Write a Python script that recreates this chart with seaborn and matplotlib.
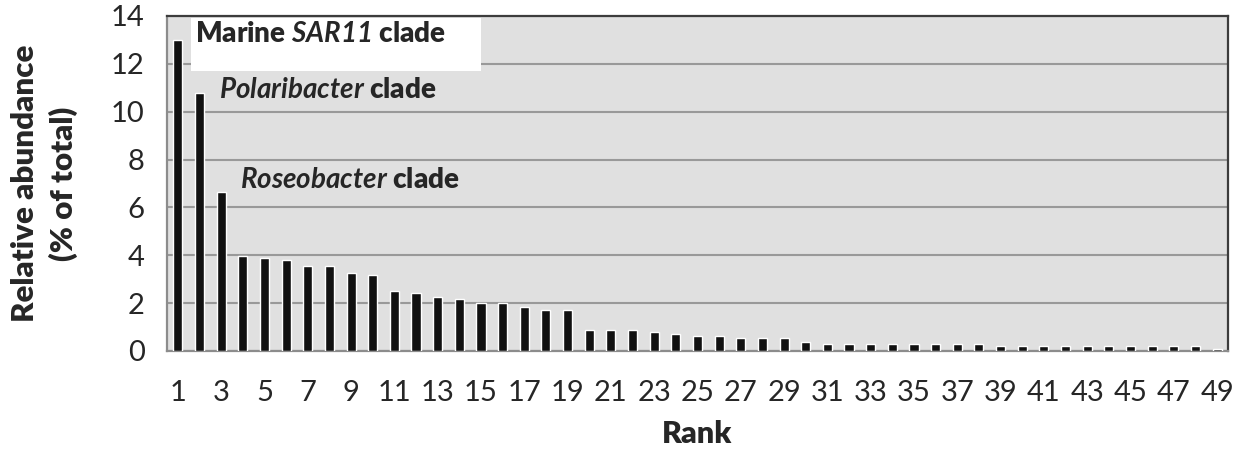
import pandas as pd
import matplotlib.pyplot as plt
import seaborn as sns
from matplotlib.patches import Rectangle

# Data (rank-abundance of clades)
ranks = list(range(1, 50))
abundance = [
    13.0, 10.8, 6.65, 3.95, 3.88, 3.79, 3.54, 3.54, 3.27, 3.18,
    2.49, 2.41, 2.26, 2.18, 2.0, 2.0, 1.82, 1.73, 1.73, 0.87,
    0.87, 0.87, 0.79, 0.71, 0.63, 0.63, 0.54, 0.54, 0.54, 0.37,
    0.28, 0.28, 0.28, 0.28, 0.28, 0.28, 0.28, 0.28, 0.2, 0.2,
    0.2, 0.2, 0.2, 0.2, 0.2, 0.2, 0.2, 0.2, 0.1,
]
labels = [r"Marine $\mathbfit{SAR11}$ clade",
          r"$\mathbfit{Polaribacter}$ clade",
          r"$\mathbfit{Roseobacter}$ clade"]
label_ranks = [1, 2, 3]
y_ticks = [0, 2, 4, 6, 8, 10, 12, 14]

df = pd.DataFrame({"rank": [str(r) for r in ranks], "abundance": abundance})

sns.set_style("white")
plt.rcParams["font.family"] = ["Lato", "DejaVu Sans"]
plt.rcParams["mathtext.fontset"] = "custom"
plt.rcParams["mathtext.bfit"] = "Lato:italic:bold"
plt.rcParams["mathtext.bf"] = "Lato:bold"
plt.rcParams["mathtext.it"] = "Lato:italic"
plt.rcParams["mathtext.rm"] = "Lato"

fig = plt.figure(figsize=(12.53, 4.53), dpi=100)
ax = fig.add_axes([0.1333, 0.2252, 0.8467, 0.7395])
ax.set_facecolor("#e0e0e0")

sns.barplot(data=df, x="rank", y="abundance", color="#111111",
            width=0.42, saturation=1, ax=ax, zorder=3)

ax.set_ylim(0, 14)
ax.set_xlim(-0.5, len(ranks) - 0.5)
ax.set_yticks(y_ticks)
ax.yaxis.grid(True, color="#999999", linewidth=1.5, zorder=1)
ax.set_axisbelow(True)

# x labels every second rank, tick marks between categories
ax.set_xticks(range(0, len(ranks), 2))
ax.set_xticklabels([str(r) for r in ranks[::2]])
ax.set_xticks([i - 0.5 for i in range(0, len(ranks) + 1, 2)], minor=True)
ax.tick_params(axis="x", which="major", length=0, pad=21, labelsize=21)
ax.tick_params(axis="x", which="minor", length=6, width=1.5,
               color="#8c8c8c", direction="out")
ax.tick_params(axis="y", which="major", length=5, width=1.5,
               color="#8c8c8c", direction="out", pad=11, labelsize=21)

for side in ["left", "bottom"]:
    ax.spines[side].set_color("#8c8c8c")
    ax.spines[side].set_linewidth(1.6)
for side in ["top", "right"]:
    ax.spines[side].set_color("#3c3c3c")
    ax.spines[side].set_linewidth(1.6)
    ax.spines[side].set_visible(True)

ax.set_xlabel("Rank", fontsize=22, fontweight="heavy", labelpad=10)
ax.set_ylabel("Relative abundance\n(% of total)", fontsize=22.5,
              fontweight="heavy", labelpad=24, linespacing=1.4)

# white box behind the top label
ax.add_patch(Rectangle((0.62, 11.7), 13.4, 2.2, facecolor="white",
                       edgecolor="none", zorder=2))

offsets = [(-0.19, -0.1), (-0.09, -0.23), (-0.12, 0.15)]
for lab, r, (dx, dy) in zip(labels, label_ranks, offsets):
    val = abundance[r - 1]
    ax.text(r + dx, val + dy, lab, fontsize=20, fontweight="heavy",
            ha="left", va="baseline", zorder=4)

fig.savefig("out.png", dpi=100)
